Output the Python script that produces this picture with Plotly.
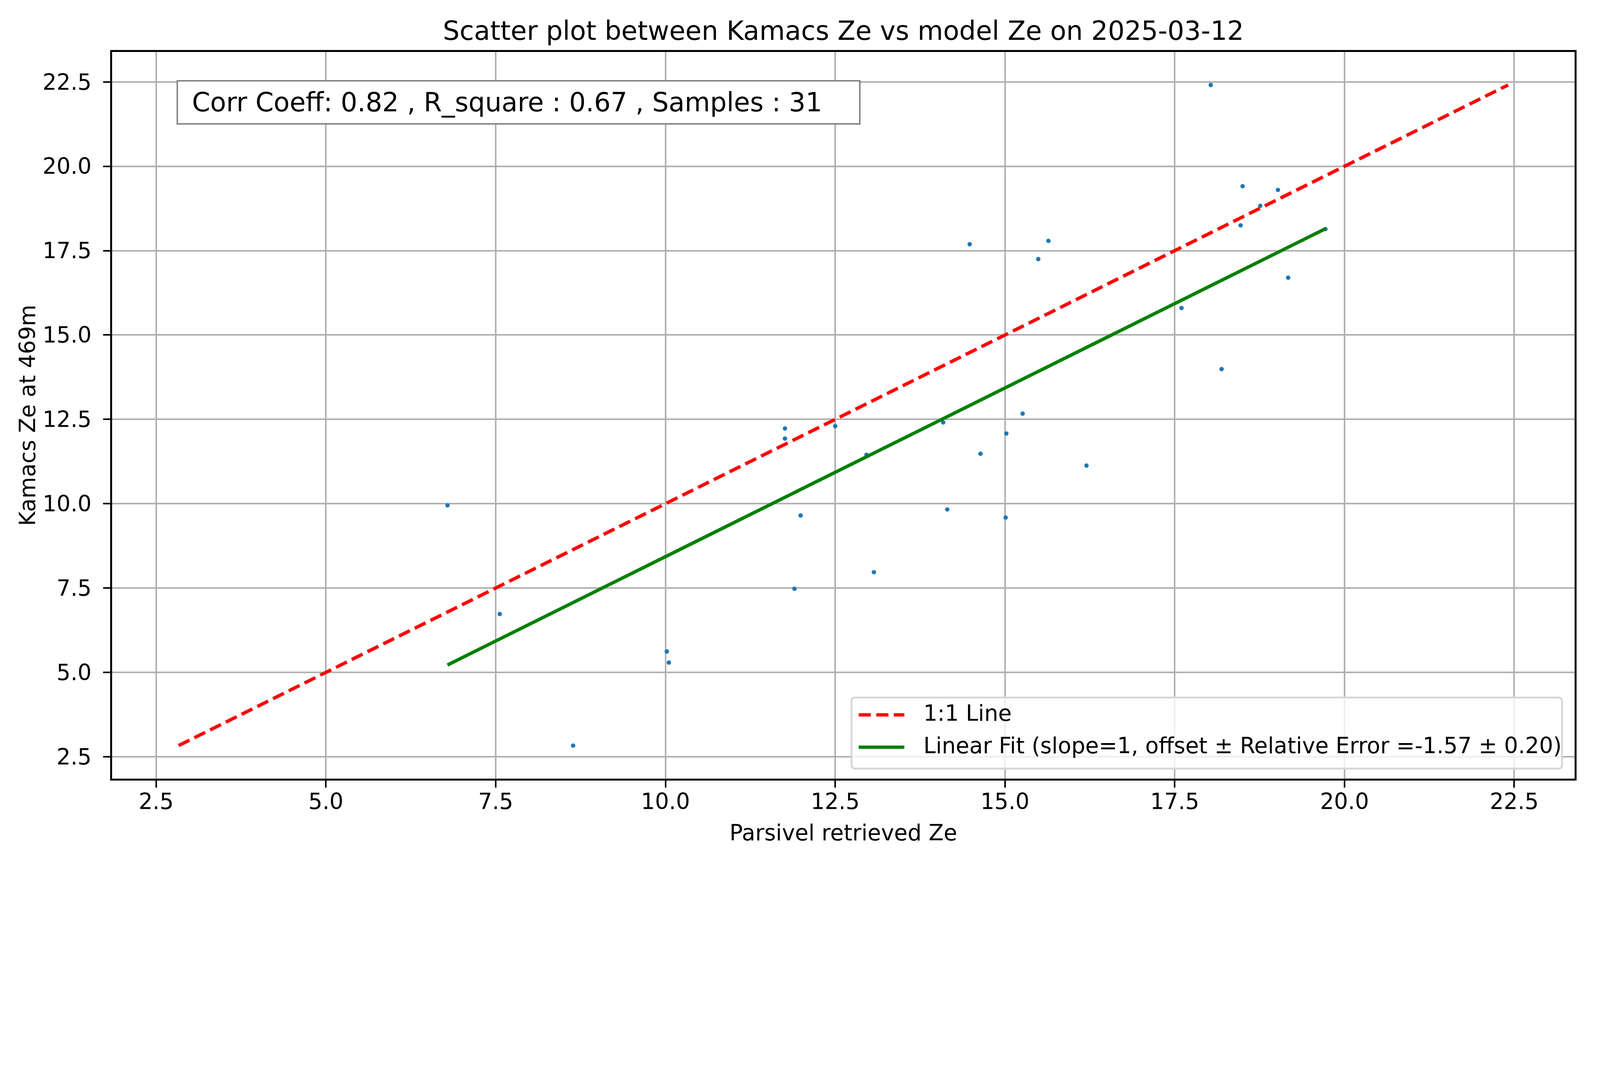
import plotly.graph_objects as go

# --- Données ---
parsivel_ze = [6.79, 7.56, 8.64, 10.02, 10.05, 11.76, 11.76, 11.90, 11.99, 12.50,
               12.96, 13.07, 14.09, 14.15, 14.48, 14.64, 15.02, 15.01, 15.26, 15.49,
               15.64, 16.20, 17.60, 18.03, 18.19, 18.47, 18.50, 18.76, 19.02, 19.17,
               19.72]
kamacs_ze = [9.95, 6.73, 2.83, 5.62, 5.29, 12.23, 11.93, 7.48, 9.65, 12.30,
             11.45, 7.97, 12.41, 9.83, 17.69, 11.48, 12.08, 9.59, 12.67, 17.25,
             17.79, 11.13, 15.80, 22.41, 13.99, 18.25, 19.41, 18.83, 19.30, 16.70,
             18.14]

OFFSET = -1.57
REL_ERR = 0.20
CORR = 0.82
R2 = 0.67
tick_vals = [2.5, 5.0, 7.5, 10.0, 12.5, 15.0, 17.5, 20.0, 22.5]

label_one = "1:1 Line"
label_fit = f"Linear Fit (slope=1, offset ± Relative Error ={OFFSET:.2f} ± {REL_ERR:.2f})"

FONT = "DejaVu Sans"
K = 0.805  # échelle px (la page visible est plus étroite que 5048 px CSS)


def px(v):
    return v * K


W, H = round(5048 * K), round(2726 * K)

# --- Lignes 1:1 et ajustement ---
lo = min(min(parsivel_ze), min(kamacs_ze))
hi = max(max(parsivel_ze), max(kamacs_ze))
pad = 0.05 * (hi - lo)
ax_range = [lo - pad, hi + pad]

fit_x = [min(parsivel_ze), max(parsivel_ze)]
fit_y = [v + OFFSET for v in fit_x]

dash = f"{px(39):.0f}px,{px(17):.0f}px"
lw = px(10.7)

fig = go.Figure()

fig.add_trace(go.Scatter(
    x=parsivel_ze, y=kamacs_ze, mode="markers",
    marker=dict(color="#1f77b4", size=px(14), line=dict(width=0)),
    showlegend=False,
))
fig.add_trace(go.Scatter(
    x=[lo, hi], y=[lo, hi], mode="lines", name=label_one,
    line=dict(color="red", width=lw, dash=dash), showlegend=False,
))
fig.add_trace(go.Scatter(
    x=fit_x, y=fit_y, mode="lines", name=label_fit,
    line=dict(color="green", width=lw), showlegend=False,
))

axis_common = dict(
    range=ax_range, tickvals=tick_vals, tickformat=".1f",
    showgrid=True, gridcolor="#b0b0b0", gridwidth=px(4.6),
    zeroline=False, showline=True, linecolor="black", linewidth=px(5.7), mirror=True,
    ticks="outside", ticklen=px(23), tickwidth=px(5.5), tickcolor="black",
    tickfont=dict(family=FONT, size=px(70), color="black"),
)

fig.update_layout(
    width=W, height=H,
    margin=dict(l=round(px(347)), r=round(px(51)), t=round(px(155)), b=round(px(260))),
    paper_bgcolor="white", plot_bgcolor="white",
    font=dict(family=FONT, color="black"),
    showlegend=False,
    title=dict(
        text="Scatter plot between Kamacs Ze vs model Ze on 2025-03-12",
        font=dict(family=FONT, size=px(83.5), color="black"),
        x=0.5, xref="paper", xanchor="center",
        y=1, yref="paper", yanchor="bottom", pad=dict(b=px(39)),
    ),
    xaxis=dict(**axis_common, ticklabelstandoff=round(px(-16)),
               title=dict(text="Parsivel retrieved Ze", standoff=px(37),
                          font=dict(family=FONT, size=px(70), color="black"))),
    yaxis=dict(**axis_common, ticklabelstandoff=round(px(22)),
               title=dict(text="Kamacs Ze at 469m", standoff=px(2),
                          font=dict(family=FONT, size=px(70), color="black"))),
)

# --- Boîte de statistiques ---
box_pad, box_bw = px(18), px(4.6)
fig.add_annotation(
    xref="paper", yref="paper", x=0.0441, y=0.9615,
    xanchor="left", yanchor="top", showarrow=False, align="left",
    text=f" Corr Coeff: {CORR:.2f} , R_square : {R2:.2f} , Samples : {len(parsivel_ze)}",
    font=dict(family=FONT, size=px(83), color="black"),
    width=px(2175) - 2 * (box_pad + box_bw),
    bgcolor="white", bordercolor="#808080", borderwidth=box_bw, borderpad=box_pad,
)

# --- Légende (cadre arrondi façon matplotlib) ---
lx0, lx1, ly0, ly1 = 0.5056, 0.9914, 0.0138, 0.1116
rx, ry = 12 / 4650, 12 / 2311
legend_path = (
    f"M {lx0 + rx},{ly0} L {lx1 - rx},{ly0} Q {lx1},{ly0} {lx1},{ly0 + ry} "
    f"L {lx1},{ly1 - ry} Q {lx1},{ly1} {lx1 - rx},{ly1} "
    f"L {lx0 + rx},{ly1} Q {lx0},{ly1} {lx0},{ly1 - ry} "
    f"L {lx0},{ly0 + ry} Q {lx0},{ly0} {lx0 + rx},{ly0} Z"
)
fig.add_shape(type="path", path=legend_path, xref="paper", yref="paper",
              fillcolor="rgba(255,255,255,0.8)", line=dict(color="#d6d6d6", width=px(5.8)),
              layer="above")

rows = [(label_one, "red", dash, 0.0878), (label_fit, "green", "solid", 0.0433)]
for label, color, d, yrow in rows:
    fig.add_shape(type="line", xref="paper", yref="paper",
                  x0=0.5105, x1=0.5417, y0=yrow, y1=yrow,
                  line=dict(color=color, width=lw, dash=d), layer="above")
    fig.add_annotation(xref="paper", yref="paper", x=0.5544, y=yrow + 0.002,
                       xanchor="left", yanchor="middle", showarrow=False,
                       text=label, font=dict(family=FONT, size=px(70), color="black"),
                       borderpad=0)

fig.write_html("out.html")
